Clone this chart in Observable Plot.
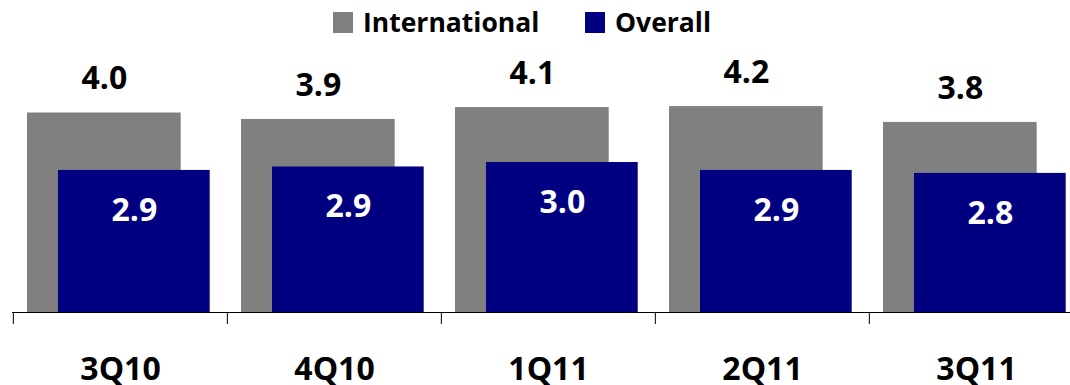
<!DOCTYPE html>
<html><head><meta charset="utf-8">
<script src="https://cdn.jsdelivr.net/npm/d3@7"></script>
<script src="https://cdn.jsdelivr.net/npm/@observablehq/plot@0.6"></script>
<style>
html,body{margin:0;padding:0;background:#fff;overflow:hidden;width:1070px;height:385px}
#legend{position:relative;height:45px;font-family:"Open Sans",sans-serif;font-weight:bold;font-size:26.5px;color:#000}
.sw{position:absolute;top:12px;width:20px;height:21px}
.lb{position:absolute;top:9px;line-height:1;white-space:nowrap}
#chart{width:1084px;height:340px;overflow:hidden}
#chart svg{display:block;max-width:none !important}
</style></head><body>
<div id="legend"></div>
<div id="chart"></div>
<script>
const quarters = ["3Q10", "4Q10", "1Q11", "2Q11", "3Q11"];
const international = [4.03, 3.90, 4.14, 4.16, 3.84];
const overall = [2.87, 2.94, 3.03, 2.87, 2.81];
const seriesNames = ["International", "Overall"];
const seriesColors = ["#808080", "#000080"];

// legend
const legend = document.getElementById("legend");
const legendPos = [[333, 363], [585, 615]];
seriesNames.forEach((name, i) => {
  const sw = document.createElement("div");
  sw.className = "sw"; sw.style.left = legendPos[i][0] + "px"; sw.style.background = seriesColors[i];
  const lb = document.createElement("div");
  lb.className = "lb"; lb.style.left = legendPos[i][1] + "px"; lb.textContent = name;
  legend.appendChild(sw); legend.appendChild(lb);
});

const intl = quarters.map((q, i) => ({q, v: international[i]}));
const ovr = quarters.map((q, i) => ({q, v: overall[i]}));
const W = 1084, ML = 12, MR = 0.5;
const bw = (W - ML - MR) / quarters.length;
const fmt = d => d.v.toFixed(1);

const chart = Plot.plot({
  width: W, height: 340,
  marginLeft: ML, marginRight: MR, marginTop: 19.5, marginBottom: 73,
  x: {domain: quarters, padding: 0, label: null},
  y: {domain: [0, 5], axis: null},
  style: {fontFamily: "'Open Sans', sans-serif", color: "#000", background: "transparent", maxWidth: "none"},
  marks: [
    Plot.barY(intl, {x: "q", y: "v", fill: seriesColors[0], insetLeft: 14, insetRight: bw - 168}),
    Plot.barY(ovr, {x: "q", y: "v", fill: seriesColors[1], insetLeft: 45, insetRight: bw - 197}),
    Plot.text(intl, {x: "q", y: "v", text: fmt, dx: 91 - bw / 2, dy: -34, fontSize: 32, fontWeight: "bold", fill: "#000"}),
    Plot.text(ovr, {x: "q", y: "v", text: fmt, dx: 121 - bw / 2, dy: 40, fontSize: 32, fontWeight: "bold", fill: "#fff"}),
    Plot.ruleY([0], {stroke: "#000", strokeWidth: 1}),
    Plot.ruleX(quarters, {x: d => d, y1: 0, y2: 0, dx: -bw / 2, insetBottom: -12, stroke: "#000", strokeWidth: 1}),
    Plot.axisX({tickSize: 0, tickPadding: 45, fontSize: 32, fontWeight: "bold", label: null})
  ]
});
document.getElementById("chart").appendChild(chart);
</script>
</body></html>
